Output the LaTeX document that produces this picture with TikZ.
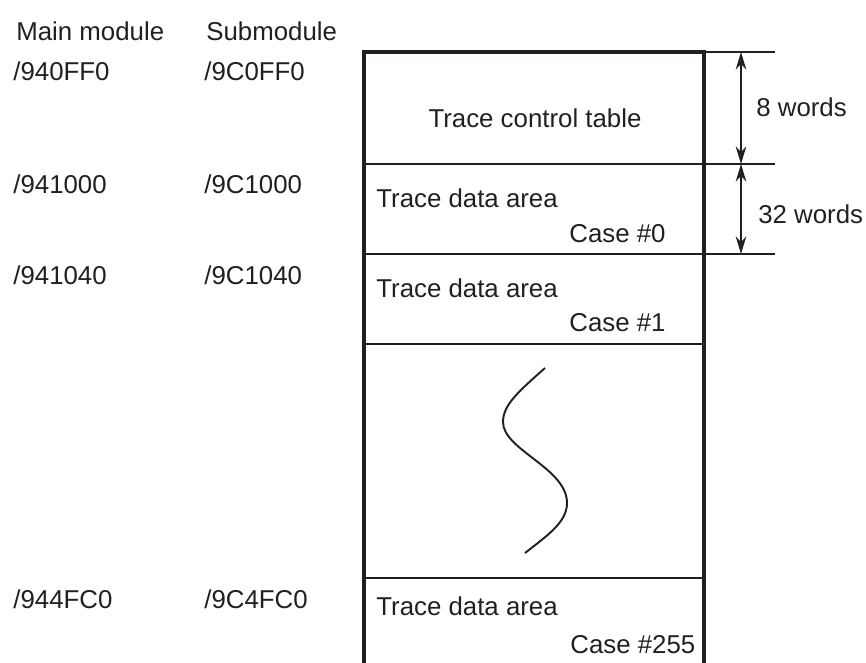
\documentclass[tikz,border=0pt]{standalone}
\usepackage{fontspec}
\setmainfont{Liberation Sans}
\usetikzlibrary{arrows.meta,positioning}
\definecolor{inkgray}{RGB}{35,31,32}

\begin{document}
\begin{tikzpicture}[
    x=0.02cm, y=-0.02cm,
    every node/.style={inner sep=0pt, text=inkgray, font=\fontsize{14.7}{17}\selectfont},
    addr/.style={anchor=base west},
    celltext/.style={anchor=base west},
    frame/.style={draw=inkgray, line width=2.2pt},
    divider/.style={draw=inkgray, line width=1.1pt},
    dimarrow/.style={{Stealth[length=10pt,width=6pt]}-{Stealth[length=10pt,width=6pt]}, draw=inkgray, line width=1.1pt},
]
    \useasboundingbox (0,0) rectangle (866,663);

    % Column headings
    \node[addr] (hmain) at (16,40) {Main module};
    \node[addr] (hsub) at (206,40) {Submodule};

    % Start addresses
    \node[addr] (main0) at (13,80) {/940FF0};
    \node[addr] (sub0) at (204,80) {/9C0FF0};
    \node[addr] (main1) at (13,193) {/941000};
    \node[addr] (sub1) at (204,193) {/9C1000};
    \node[addr] (main2) at (13,284) {/941040};
    \node[addr] (sub2) at (204,284) {/9C1040};
    \node[addr] (main3) at (13,608) {/944FC0};
    \node[addr] (sub3) at (204,608) {/9C4FC0};

    % Memory frame (open at the bottom)
    \coordinate (fbl) at (364,663);
    \coordinate (ftl) at (364,52);
    \coordinate (ftr) at (704,52);
    \coordinate (fbr) at (704,663);
    \draw[frame] (fbl) -- (ftl) -- (ftr) -- (fbr);

    % Dividers
    \coordinate (top e) at (775,52);
    \coordinate (d1w) at (364,164);
    \coordinate (d1e) at (775,164);
    \coordinate (d2w) at (364,254);
    \coordinate (d2e) at (775,254);
    \coordinate (d3w) at (364,344);
    \coordinate (d3e) at (704,344);
    \coordinate (d4w) at (364,578);
    \coordinate (d4e) at (704,578);
    \draw[divider] (ftr) -- (top e);
    \draw[divider] (d1w) -- (d1e);
    \draw[divider] (d2w) -- (d2e);
    \draw[divider] (d3w) -- (d3e);
    \draw[divider] (d4w) -- (d4e);

    % Cell texts
    \node[anchor=base] (ctrl) at (535,127) {Trace control table};
    \node[celltext] (area0) at (376,207) {Trace data area};
    \node[celltext] (case0) at (569,242) {Case \#0};
    \node[celltext] (area1) at (376,297) {Trace data area};
    \node[celltext] (case1) at (569,331) {Case \#1};
    \node[celltext] (area255) at (376,615) {Trace data area};
    \node[celltext] (case255) at (570,653) {Case \#255};

    % Omitted cases
    \draw[divider] (545,368) .. controls (518,392) and (503,405) .. (503,422)
        .. controls (503,450) and (567,468) .. (567,503)
        .. controls (567,522) and (548,535) .. (525,553);

    % Sizes
    \coordinate (a0) at (741,52);
    \coordinate (a1) at (741,164);
    \coordinate (a2) at (741,254);
    \draw[dimarrow] (a0) -- (a1);
    \draw[dimarrow] (a1) -- (a2);
    \node[celltext] (w8) at (756,116) {8 words};
    \node[celltext] (w32) at (758,223) {32 words};
\end{tikzpicture}
\end{document}
